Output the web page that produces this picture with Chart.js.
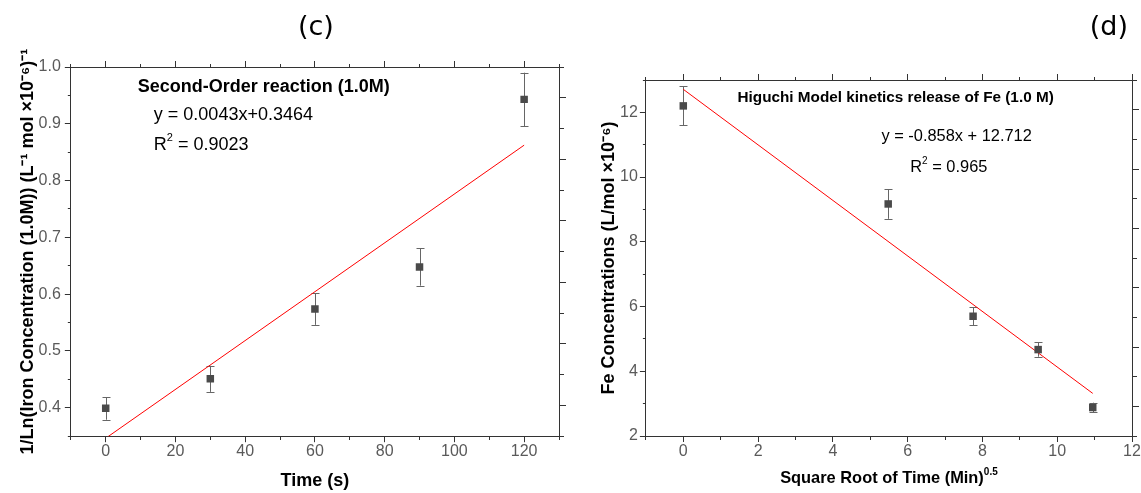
<!DOCTYPE html>
<html>
<head>
<meta charset="utf-8">
<script src="https://cdn.jsdelivr.net/npm/chart.js@4.4.1/dist/chart.umd.min.js"></script>
<style>
  html, body { margin: 0; padding: 0; background: #fff; }
  #wrap { position: relative; width: 1141px; height: 493px; }
  #chartC { position: absolute; left: 0; top: 0; }
  #chartD { position: absolute; left: 580px; top: 0; }
</style>
</head>
<body>
<div id="wrap">
  <canvas id="chartC" width="580" height="493"></canvas>
  <canvas id="chartD" width="561" height="493"></canvas>
</div>
<script>
// ---- (c) second-order reaction, 1.0 M ----
const timeSec = [0, 30, 60, 90, 120];
const invLnConc = [0.399, 0.451, 0.574, 0.648, 0.943];
const invLnErr = [0.020, 0.023, 0.028, 0.033, 0.047];
const secondOrderSlope = 0.0043;
const secondOrderIntercept = 0.3464;
const secondOrderR2 = '0.9023';
const secondOrderFitX = [0, 120];

// ---- (d) Higuchi model, Fe release 1.0 M ----
const sqrtTime = [0, 5.48, 7.75, 9.49, 10.95];
const feConc = [12.2, 9.17, 5.7, 4.67, 2.88];
const feErr = [0.6, 0.46, 0.28, 0.22, 0.15];
const higuchiSlope = -0.858;
const higuchiIntercept = 12.712;
const higuchiR2 = '0.965';
const higuchiFitX = [0, 10.95];

const FONT = "'Liberation Sans', Arial, sans-serif";
const AXIS_COLOR = '#333';
const TICK_TEXT = '#5a5a5a';
const MARKER = '#4a4a4a';
const ERR_COLOR = '#666';
const FIT_COLOR = '#ff0000';

Chart.defaults.font.family = FONT;
Chart.defaults.animation = false;

// frame axis: long ticks on majors, short stubs on minors
function frameAxis(o) {
  const tl = o.tickLen || 6;
  const sl = o.shortLen || 3;
  const farEndFirst = o.position === 'left' || o.position === 'top';
  return {
    type: 'linear',
    position: o.position,
    min: o.min,
    max: o.max,
    ticks: {
      stepSize: o.step,
      display: !!o.label,
      autoSkip: false,
      maxRotation: 0,
      color: TICK_TEXT,
      font: { size: 16 },
      padding: o.padding || 0,
      callback: o.label || (() => '')
    },
    grid: {
      drawOnChartArea: false,
      drawTicks: true,
      tickLength: tl,
      tickColor: AXIS_COLOR,
      tickWidth: 1,
      tickBorderDash: ctx => {
        if (!ctx.tick || o.isMajor(ctx.tick.value)) return [];
        return farEndFirst ? [0, tl - sl, sl, 50] : [sl, 50];
      }
    },
    border: { display: true, color: AXIS_COLOR, width: 1 },
    title: o.title || { display: false }
  };
}

function drawRich(ctx, parts, x, y, size, weight, align) {
  const main = `${weight} ${size}px ${FONT}`;
  const sup = `${weight} ${Math.round(size * 0.62)}px ${FONT}`;
  let total = 0;
  parts.forEach(p => { ctx.font = p[1] ? sup : main; total += ctx.measureText(p[0]).width; });
  let cx = align === 'center' ? x - total / 2 : x;
  ctx.textAlign = 'left';
  ctx.textBaseline = 'middle';
  parts.forEach(p => {
    ctx.font = p[1] ? sup : main;
    ctx.fillText(p[0], cx, p[1] ? y - size * 0.38 : y);
    cx += ctx.measureText(p[0]).width;
  });
}

// vertical error bars with caps, under the markers
const errorBars = {
  id: 'errorBars',
  beforeDatasetsDraw(chart) {
    const { ctx, scales: { x, y } } = chart;
    ctx.save();
    ctx.strokeStyle = ERR_COLOR;
    ctx.lineWidth = 1;
    chart.data.datasets.forEach(ds => {
      if (!ds.errors) return;
      ds.data.forEach((p, i) => {
        const px = Math.round(x.getPixelForValue(p.x)) + 0.5;
        const top = y.getPixelForValue(p.y + ds.errors[i]);
        const bot = y.getPixelForValue(p.y - ds.errors[i]);
        ctx.beginPath();
        ctx.moveTo(px, top); ctx.lineTo(px, bot);
        ctx.moveTo(px - 4, Math.round(top) + 0.5); ctx.lineTo(px + 4, Math.round(top) + 0.5);
        ctx.moveTo(px - 4, Math.round(bot) + 0.5); ctx.lineTo(px + 4, Math.round(bot) + 0.5);
        ctx.stroke();
      });
    });
    ctx.restore();
  }
};

// panel letter and in-plot annotations placed through the scales
const notes = {
  id: 'notes',
  afterDraw(chart, args, opts) {
    const { ctx, chartArea, scales: { x, y } } = chart;
    ctx.save();
    ctx.fillStyle = '#000';
    ctx.font = `27px 'DejaVu Sans', sans-serif`;
    ctx.textBaseline = 'middle';
    if (opts.panelAlign === 'right') {
      ctx.textAlign = 'right';
      ctx.fillText(opts.panel, chartArea.right - 4, 28);
    } else {
      ctx.textAlign = 'center';
      ctx.fillText(opts.panel, (chartArea.left + chartArea.right) / 2 + 1, 28);
    }
    opts.items.forEach(n => {
      drawRich(ctx, n.parts, x.getPixelForValue(n.x), y.getPixelForValue(n.y), n.size, n.weight, 'left');
    });
    if (opts.xTitle) {
      drawRich(ctx, opts.xTitle, (chartArea.left + chartArea.right) / 2, 478, 16.4, 'bold', 'center');
    }
    ctx.restore();
  }
};

function scatterSet(xs, ys, errs) {
  return {
    type: 'scatter',
    data: xs.map((v, i) => ({ x: v, y: ys[i] })),
    errors: errs,
    pointStyle: 'rect',
    pointRadius: 5.3,
    pointHoverRadius: 5.3,
    backgroundColor: MARKER,
    borderColor: MARKER,
    borderWidth: 0
  };
}

function fitSet(xs, slope, intercept) {
  return {
    type: 'line',
    data: xs.map(v => ({ x: v, y: slope * v + intercept })),
    borderColor: FIT_COLOR,
    borderWidth: 1,
    pointRadius: 0,
    fill: false,
    tension: 0
  };
}

new Chart(document.getElementById('chartC'), {
  type: 'scatter',
  data: { datasets: [scatterSet(timeSec, invLnConc, invLnErr), fitSet(secondOrderFitX, secondOrderSlope, secondOrderIntercept)] },
  options: {
    responsive: false,
    layout: { padding: { top: 61, right: 14, left: 0, bottom: 0 } },
    plugins: {
      legend: { display: false },
      tooltip: { enabled: false },
      notes: {
        panel: '(c)',
        items: [
          { x: 9.2, y: 0.965, size: 18, weight: 'bold', parts: [['Second-Order reaction (1.0M)', 0]] },
          { x: 13.8, y: 0.9155, size: 18, weight: 'normal', parts: [[`y = ${secondOrderSlope}x+${secondOrderIntercept}`, 0]] },
          { x: 13.8, y: 0.863, size: 18, weight: 'normal', parts: [['R', 0], ['2', 1], [` = ${secondOrderR2}`, 0]] }
        ]
      }
    },
    scales: {
      x: frameAxis({
        position: 'bottom', min: -10, max: 130, step: 10,
        isMajor: v => Math.round(v) % 20 === 0,
        label: v => (Math.round(v) % 20 === 0 ? String(v) : ''),
        title: { display: true, text: 'Time (s)', color: '#000', font: { size: 18, weight: 'bold' }, padding: { top: 9, bottom: 1 } }
      }),
      y: frameAxis({
        position: 'left', min: 0.35, max: 1.0, step: 0.05, padding: 4,
        isMajor: v => Math.round(v * 100) % 10 === 0,
        label: v => (Math.round(v * 100) % 10 === 0 ? v.toFixed(1) : ''),
        title: { display: true, text: '1/Ln(Iron Concentration (1.0M)) (L⁻¹ mol ×10⁻⁶)⁻¹', color: '#000', font: { size: 18, weight: 'bold' }, padding: { top: 17, bottom: -4 } }
      }),
      x2: frameAxis({ position: 'top', min: -10, max: 130, step: 10, isMajor: v => Math.round(v) % 20 === 0 }),
      y2: frameAxis({ position: 'right', min: 0, max: 12, step: 1, tickLen: 7, shortLen: 4, isMajor: v => v % 2 === 1 })
    }
  },
  plugins: [errorBars, notes]
});

new Chart(document.getElementById('chartD'), {
  type: 'scatter',
  data: { datasets: [scatterSet(sqrtTime, feConc, feErr), fitSet(higuchiFitX, higuchiSlope, higuchiIntercept)] },
  options: {
    responsive: false,
    layout: { padding: { top: 74, right: 2, left: 0, bottom: 31.8 } },
    plugins: {
      legend: { display: false },
      tooltip: { enabled: false },
      notes: {
        panel: '(d)',
        panelAlign: 'right',
        items: [
          { x: 1.45, y: 12.46, size: 15.3, weight: 'bold', parts: [['Higuchi Model kinetics release of Fe (1.0 M)', 0]] },
          { x: 5.3, y: 11.25, size: 16.4, weight: 'normal', parts: [[`y = ${higuchiSlope}x + ${higuchiIntercept}`, 0]] },
          { x: 6.07, y: 10.31, size: 16.4, weight: 'normal', parts: [['R', 0], ['2', 1], [` = ${higuchiR2}`, 0]] }
        ],
        xTitle: [['Square Root of Time (Min)', 0], ['0.5', 1]]
      }
    },
    scales: {
      x: frameAxis({
        position: 'bottom', min: -1, max: 12, step: 1,
        isMajor: v => v % 2 === 0,
        label: v => (v % 2 === 0 ? String(v) : '')
      }),
      y: frameAxis({
        position: 'left', min: 2, max: 13, step: 1, padding: 2,
        isMajor: v => v % 2 === 0,
        label: v => (v % 2 === 0 ? String(v) : ''),
        title: { display: true, text: 'Fe Concentrations (L/mol ×10⁻⁶)', color: '#000', font: { size: 18, weight: 'bold' }, padding: { top: 18.5, bottom: -2 } }
      }),
      x2: frameAxis({ position: 'top', min: -1, max: 12, step: 1, isMajor: v => v % 2 === 0 }),
      y2: frameAxis({ position: 'right', min: 0, max: 12, step: 1, tickLen: 7, shortLen: 4, isMajor: v => v % 2 === 1 })
    }
  },
  plugins: [errorBars, notes]
});
</script>
</body>
</html>
